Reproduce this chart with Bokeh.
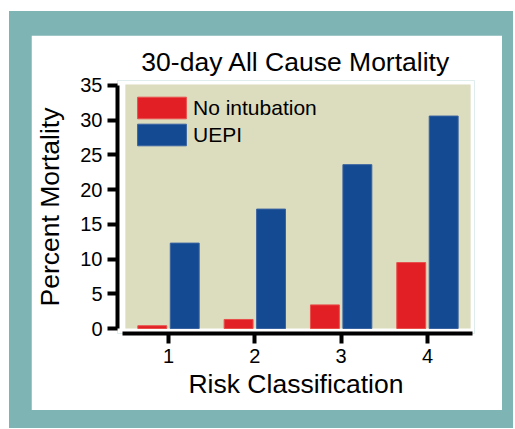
from bokeh.plotting import figure
from bokeh.layouts import column
from bokeh.models import ColumnDataSource, BoxAnnotation, FixedTicker, Range1d
from bokeh.transform import dodge
from bokeh.embed import file_html
from bokeh.resources import INLINE

# ---- data ----
risk_class = [1, 2, 3, 4]
no_intubation = [0.4, 1.3, 3.4, 9.5]
uepi = [12.3, 17.2, 23.6, 30.6]
y_ticks = [0, 5, 10, 15, 20, 25, 30, 35]
x_ticks = [1, 2, 3, 4]

TEAL = "#7fb4b4"
KHAKI = "#dcdcbe"
RED = "#e31f26"
BLUE = "#134a92"
FONT = "Liberation Sans"

src = ColumnDataSource(data=dict(cls=risk_class, no_int=no_intubation, uepi=uepi))

p = figure(width=471, height=375, output_backend="svg", toolbar_location=None,
           x_range=Range1d(0.409, 4.545), y_range=Range1d(-0.72, 35.72),
           min_border_left=86, min_border_right=28, min_border_top=45, min_border_bottom=77,
           margin=(24, 11, 18, 22),
           title="30-day All Cause Mortality")
p.border_fill_color = "white"
p.background_fill_color = "white"
p.outline_line_color = None
p.grid.visible = False

p.add_layout(BoxAnnotation(left=0.5, right=4.5, bottom=0, top=35.15,
                           fill_color=KHAKI, fill_alpha=1, line_color=None, level="underlay"))

p.vbar(x=dodge("cls", -0.188, range=p.x_range), top="no_int", width=0.335, source=src,
       fill_color=RED, line_color="#e8504c", line_width=1, legend_label="No intubation")
p.vbar(x=dodge("cls", 0.188, range=p.x_range), top="uepi", width=0.335, source=src,
       fill_color=BLUE, line_color="#3a63a2", line_width=1, legend_label="UEPI")

# title
p.title.text_font = FONT
p.title.text_font_size = "26.5px"
p.title.text_font_style = "normal"
p.title.text_color = "black"
p.title.align = "center"
p.title.standoff = 7
p.title.offset = -6

# axes
for ax in (p.xaxis[0], p.yaxis[0]):
    ax.axis_line_width = 4
    ax.axis_line_color = "black"
    ax.major_tick_line_width = 4
    ax.major_tick_line_color = "black"
    ax.major_tick_out = 10
    ax.major_tick_in = 0
    ax.minor_tick_line_color = None
    ax.major_label_text_font = FONT
    ax.major_label_text_font_size = "20px"
    ax.major_label_text_color = "black"
    ax.axis_label_text_font = FONT
    ax.axis_label_text_font_size = "26.5px"
    ax.axis_label_text_font_style = "normal"
    ax.axis_label_text_color = "black"

p.xaxis.ticker = FixedTicker(ticks=x_ticks)
p.yaxis.ticker = FixedTicker(ticks=y_ticks)
p.xaxis.bounds = (0.47, 4.52)
p.yaxis.bounds = (0, 35)
p.xaxis.axis_label = "Risk Classification"
p.yaxis.axis_label = "Percent Mortality"
p.xaxis.major_label_standoff = 5
p.yaxis.major_label_standoff = 5
p.xaxis.axis_label_standoff = 3
p.yaxis.axis_label_standoff = 12

# legend
lg = p.legend[0]
lg.location = "top_left"
lg.margin = 14
lg.padding = 0
lg.spacing = 0
lg.glyph_width = 61
lg.glyph_height = 27
lg.label_height = 24
lg.label_standoff = 1
lg.label_text_font = FONT
lg.label_text_font_size = "21px"
lg.label_text_color = "black"
lg.background_fill_alpha = 0
lg.border_line_color = None

layout = column(p, styles={"background-color": TEAL, "border-radius": "0px"},
                margin=(11, 0, 0, 9))

open("out.html", "w").write(file_html(layout, INLINE))
